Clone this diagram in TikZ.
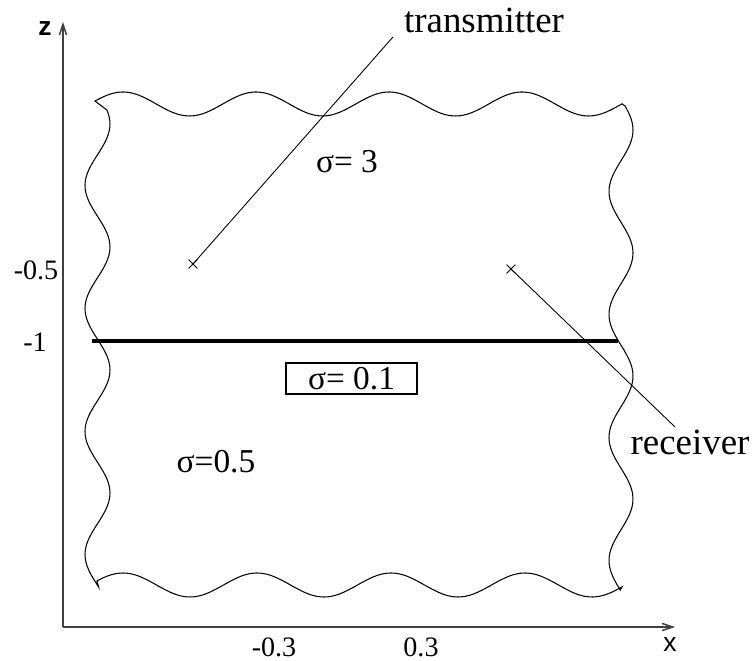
\documentclass[tikz,border=0pt]{standalone}
\usepackage{fontspec}
\setmainfont{Liberation Serif}
\setsansfont{Liberation Sans}
\usetikzlibrary{arrows.meta,shapes.misc}

\begin{document}
\begin{tikzpicture}[x=0.02cm,y=-0.02cm,
  edge/.style={line width=0.6pt},
  axis/.style={-{Straight Barb[length=6pt,width=4pt]},line width=0.85pt,black!75},
  lbl/.style={font=\fontsize{21}{25}\selectfont,inner sep=0pt,anchor=base},
  sig/.style={font=\fontsize{19}{23}\selectfont,inner sep=0pt,anchor=base},
  num/.style={font=\fontsize{16}{19}\selectfont,inner sep=0pt,anchor=base},
  axlab/.style={font=\sffamily\fontsize{15}{18}\selectfont,inner sep=0pt},
  xcross/.style={draw,cross out,minimum size=0.16cm,inner sep=0pt,line width=0.45pt}]
  \useasboundingbox (0,0) rectangle (754,661);
  % axes
  \coordinate (O) at (63,627);
  \coordinate (xend) at (675,627);
  \coordinate (zend) at (63,22);
  \draw[axis] (O) -- (xend);
  \draw[axis] (O) -- (zend);
  \node[axlab] (zlab) at (45,29) {\bfseries z};
  \node[axlab] (xlab) at (670,645) {x};
  \node[num] (zhalf) at (36,280) {-0.5};
  \node[num] (zone) at (35,352) {-1};
  \node[num] (xneg) at (274,657) {-0.3};
  \node[num] (xpos) at (421,657) {0.3};
  % wavy border of the region (periods 133, 123, 134 px)
  \draw[edge] plot[domain=95:622,samples=110,smooth] (\x,{104-12*cos(2.70677*(\x-123))})
    -- plot[domain=106:590,samples=90,smooth] ({621+12*cos(2.92683*(\x-253))},\x)
    -- plot[domain=622:97,samples=110,smooth] (\x,{585-12*cos(2.68657*(\x-123))})
    -- plot[domain=587:110,samples=90,smooth] ({97.5+12.5*cos(2.92683*(\x-247))},\x)
    -- cycle;
  % layer boundary
  \coordinate (lw) at (92,341);
  \coordinate (le) at (618,341);
  \draw[line width=2.3pt] (lw) -- (le);
  % conductivities
  \node[sig] (sigtop) at (347,173) {σ= 3};
  \node[sig,draw,anchor=center,minimum width=2.62cm,minimum height=0.62cm,line width=0.6pt] (siglayer) at (351.5,378.5) {σ= 0.1};
  \node[sig] (sigbot) at (216,473) {σ=0.5};
  % source and receiver
  \node[xcross] (tx) at (193,264) {};
  \node[xcross] (rx) at (511,269) {};
  \node[lbl] (txlab) at (484,33) {transmitter};
  \node[lbl] (rxlab) at (690,455) {receiver};
  \coordinate (txend) at (393,37);
  \coordinate (rxend) at (675,427);
  \draw[line width=0.5pt] (tx.center) -- (txend);
  \draw[line width=0.5pt] (rx.center) -- (rxend);
\end{tikzpicture}
\end{document}
